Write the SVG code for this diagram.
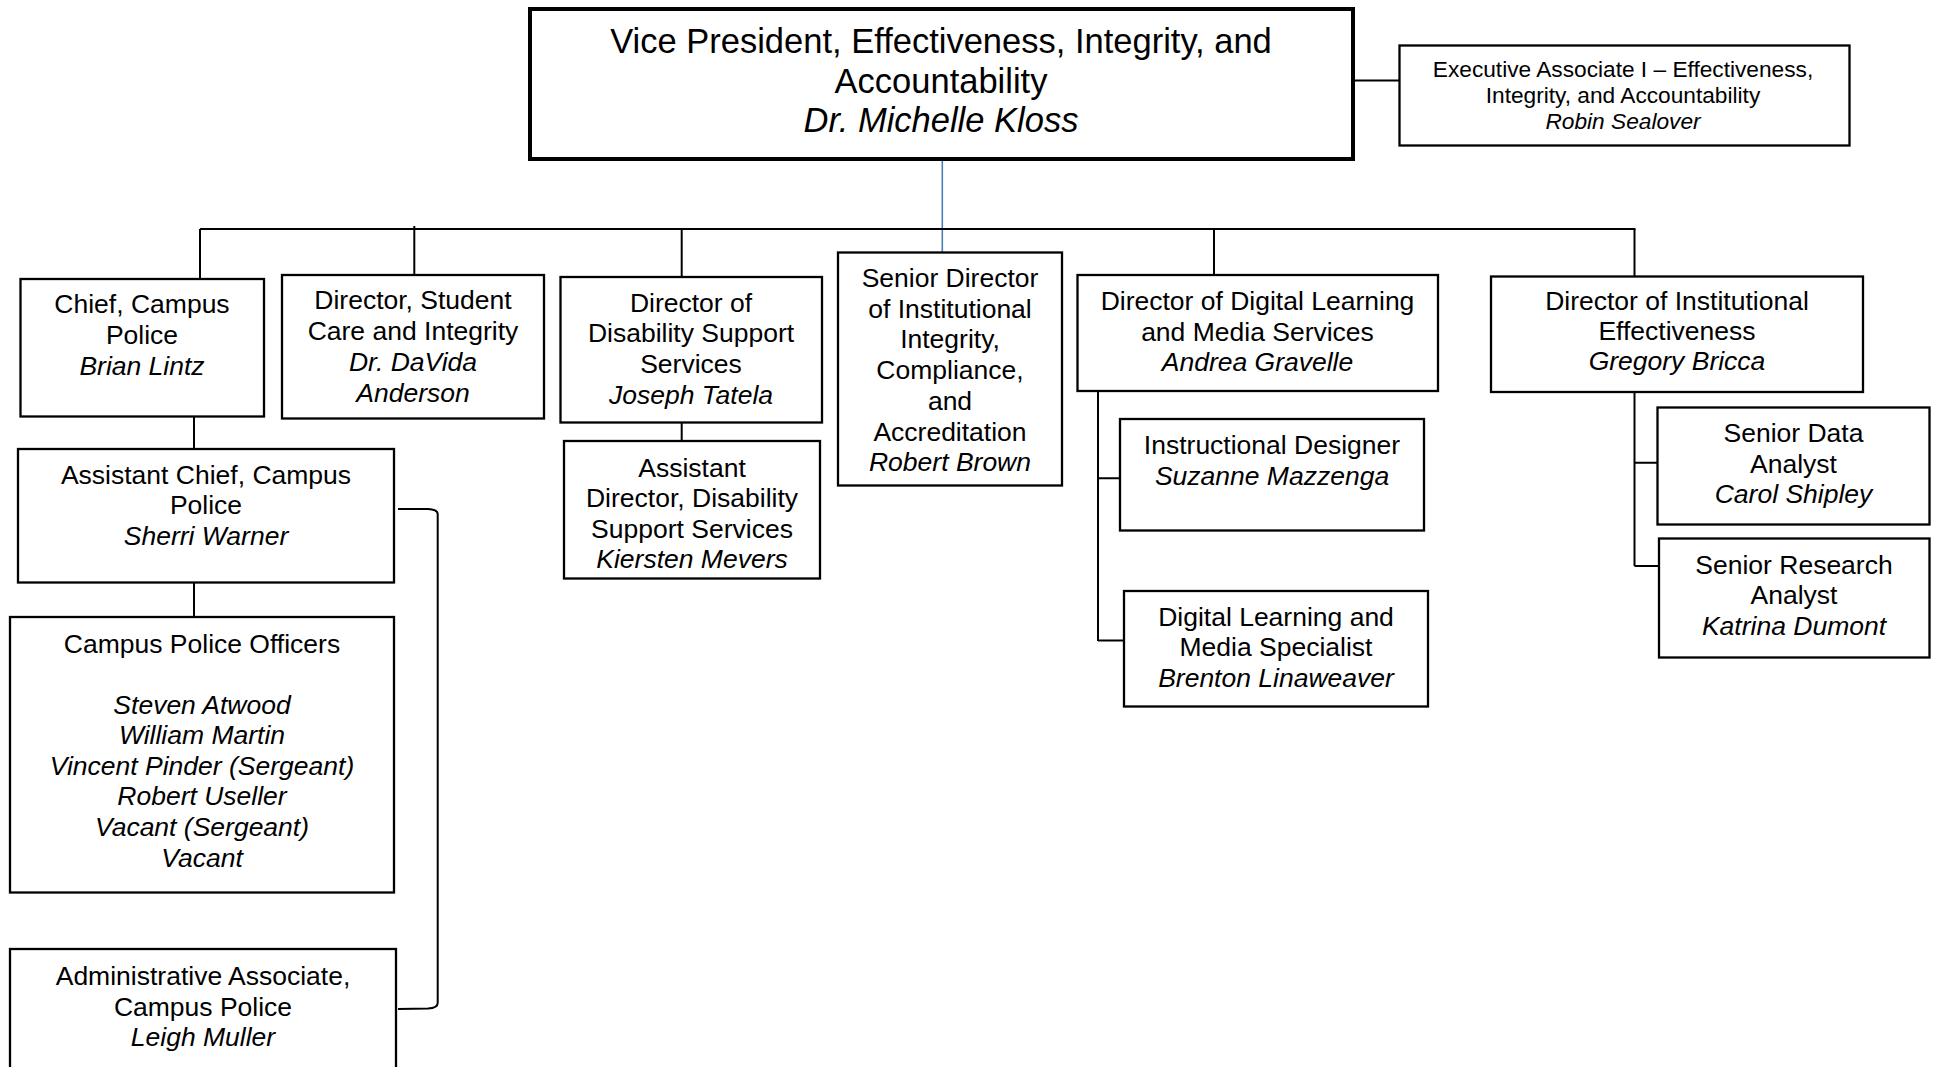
<svg xmlns="http://www.w3.org/2000/svg" width="1938" height="1067" viewBox="0 0 1938 1067">
<style>
  .box{fill:#fff;stroke:#000;stroke-width:2.3}
  .vp{fill:#fff;stroke:#000;stroke-width:4}
  .ln{fill:none;stroke:#000;stroke-width:2}
  .blue{fill:none;stroke:#4a7ebb;stroke-width:1.6}
  text{font-family:"Liberation Sans",Arial,sans-serif;font-size:26.5px;fill:#000;text-anchor:middle}
  .i{font-style:italic}
  .vpt{font-size:34.5px}
  .ex{font-size:22.7px}
</style>
<rect width="1938" height="1067" fill="#fff"/>
<g id="connectors">
  <path class="ln" d="M1355,80.5 H1399"/>
  <path class="blue" d="M942.3,158 V252"/>
  <path class="ln" d="M200,229 H1635.5"/>
  <path class="ln" d="M200,229 V279"/>
  <path class="ln" d="M414.3,226 V275"/>
  <path class="ln" d="M681.7,229 V277"/>
  <path class="ln" d="M1214,229 V275"/>
  <path class="ln" d="M1634.5,229 V276.5"/>
  <path class="ln" d="M194,416 V449"/>
  <path class="ln" d="M194,582 V617"/>
  <path class="ln" d="M681.7,422 V441"/>
  <path class="ln" d="M1098,391 V641 M1098,478.3 H1120 M1098,640.5 H1124"/>
  <path class="ln" d="M1634.5,392 V566 M1634.5,462.7 H1657.5 M1634.5,566 H1659"/>
  <path class="ln" d="M398,509 L428,509 Q437.7,509.5 437.7,514 V1003 Q437.7,1008 428,1008.5 L398,1009"/>
</g>
<g id="vp">
  <rect class="vp" x="530" y="9" width="823" height="150"/>
  <text class="vpt" x="941" y="53.3">Vice President, Effectiveness, Integrity, and</text>
  <text class="vpt" x="941" y="92.7">Accountability</text>
  <text class="vpt i" x="941" y="132.3">Dr. Michelle Kloss</text>
</g>
<g id="exec">
  <rect class="box" x="1399.5" y="45.5" width="450" height="100"/>
  <text class="ex" x="1623" y="76.5">Executive Associate I – Effectiveness,</text>
  <text class="ex" x="1623" y="103">Integrity, and Accountability</text>
  <text class="ex i" x="1623" y="129.3">Robin Sealover</text>
</g>
<g id="chief">
  <rect class="box" x="20.5" y="279" width="243.5" height="137.5"/>
  <text x="142" y="313.3">Chief, Campus</text>
  <text x="142" y="344">Police</text>
  <text class="i" x="142" y="375">Brian Lintz</text>
</g>
<g id="student">
  <rect class="box" x="282" y="275" width="262" height="143.5"/>
  <text x="413" y="309.3">Director, Student</text>
  <text x="413" y="340">Care and Integrity</text>
  <text class="i" x="413" y="371">Dr. DaVida</text>
  <text class="i" x="413" y="401.7">Anderson</text>
</g>
<g id="disability">
  <rect class="box" x="560.5" y="277" width="261.5" height="145.5"/>
  <text x="691" y="311.5">Director of</text>
  <text x="691" y="342.3">Disability Support</text>
  <text x="691" y="373">Services</text>
  <text class="i" x="691" y="403.8">Joseph Tatela</text>
</g>
<g id="asstdisability">
  <rect class="box" x="564" y="441" width="256" height="137.5"/>
  <text x="692" y="476.5">Assistant</text>
  <text x="692" y="507.2">Director, Disability</text>
  <text x="692" y="537.8">Support Services</text>
  <text class="i" x="692" y="568.4">Kiersten Mevers</text>
</g>
<g id="seniordirector">
  <rect class="box" x="838" y="252.5" width="224" height="233"/>
  <text x="950" y="287">Senior Director</text>
  <text x="950" y="317.7">of Institutional</text>
  <text x="950" y="348.4">Integrity,</text>
  <text x="950" y="379.1">Compliance,</text>
  <text x="950" y="409.8">and</text>
  <text x="950" y="440.5">Accreditation</text>
  <text class="i" x="950" y="471.2">Robert Brown</text>
</g>
<g id="digital">
  <rect class="box" x="1077.5" y="275" width="360.5" height="116"/>
  <text x="1257.5" y="310">Director of Digital Learning</text>
  <text x="1257.5" y="340.5">and Media Services</text>
  <text class="i" x="1257.5" y="371">Andrea Gravelle</text>
</g>
<g id="insteff">
  <rect class="box" x="1491" y="276.5" width="372" height="115.5"/>
  <text x="1677" y="310">Director of Institutional</text>
  <text x="1677" y="340">Effectiveness</text>
  <text class="i" x="1677" y="369.5">Gregory Bricca</text>
</g>
<g id="instrdesigner">
  <rect class="box" x="1120" y="419" width="304" height="111.5"/>
  <text x="1272" y="454">Instructional Designer</text>
  <text class="i" x="1272" y="484.5">Suzanne Mazzenga</text>
</g>
<g id="dlspecialist">
  <rect class="box" x="1124" y="591" width="304" height="115.5"/>
  <text x="1276" y="625.7">Digital Learning and</text>
  <text x="1276" y="656">Media Specialist</text>
  <text class="i" x="1276" y="686.7">Brenton Linaweaver</text>
</g>
<g id="dataanalyst">
  <rect class="box" x="1657.5" y="407.5" width="272" height="117"/>
  <text x="1793.5" y="442">Senior Data</text>
  <text x="1793.5" y="472.7">Analyst</text>
  <text class="i" x="1793.5" y="503">Carol Shipley</text>
</g>
<g id="researchanalyst">
  <rect class="box" x="1659" y="538.5" width="270.5" height="119"/>
  <text x="1794" y="573.5">Senior Research</text>
  <text x="1794" y="604">Analyst</text>
  <text class="i" x="1794" y="634.5">Katrina Dumont</text>
</g>
<g id="asstchief">
  <rect class="box" x="18" y="449" width="376" height="133.5"/>
  <text x="206" y="483.5">Assistant Chief, Campus</text>
  <text x="206" y="514.3">Police</text>
  <text class="i" x="206" y="545.3">Sherri Warner</text>
</g>
<g id="officers">
  <rect class="box" x="10" y="617" width="384" height="275.5"/>
  <text x="202" y="652.5">Campus Police Officers</text>
  <text class="i" x="202" y="713.5">Steven Atwood</text>
  <text class="i" x="202" y="744.1">William Martin</text>
  <text class="i" x="202" y="774.7">Vincent Pinder (Sergeant)</text>
  <text class="i" x="202" y="805.3">Robert Useller</text>
  <text class="i" x="202" y="835.9">Vacant (Sergeant)</text>
  <text class="i" x="202" y="866.5">Vacant</text>
</g>
<g id="adminassoc">
  <rect class="box" x="10" y="949" width="386" height="130"/>
  <text x="203" y="985">Administrative Associate,</text>
  <text x="203" y="1015.5">Campus Police</text>
  <text class="i" x="203" y="1046">Leigh Muller</text>
</g>
</svg>
